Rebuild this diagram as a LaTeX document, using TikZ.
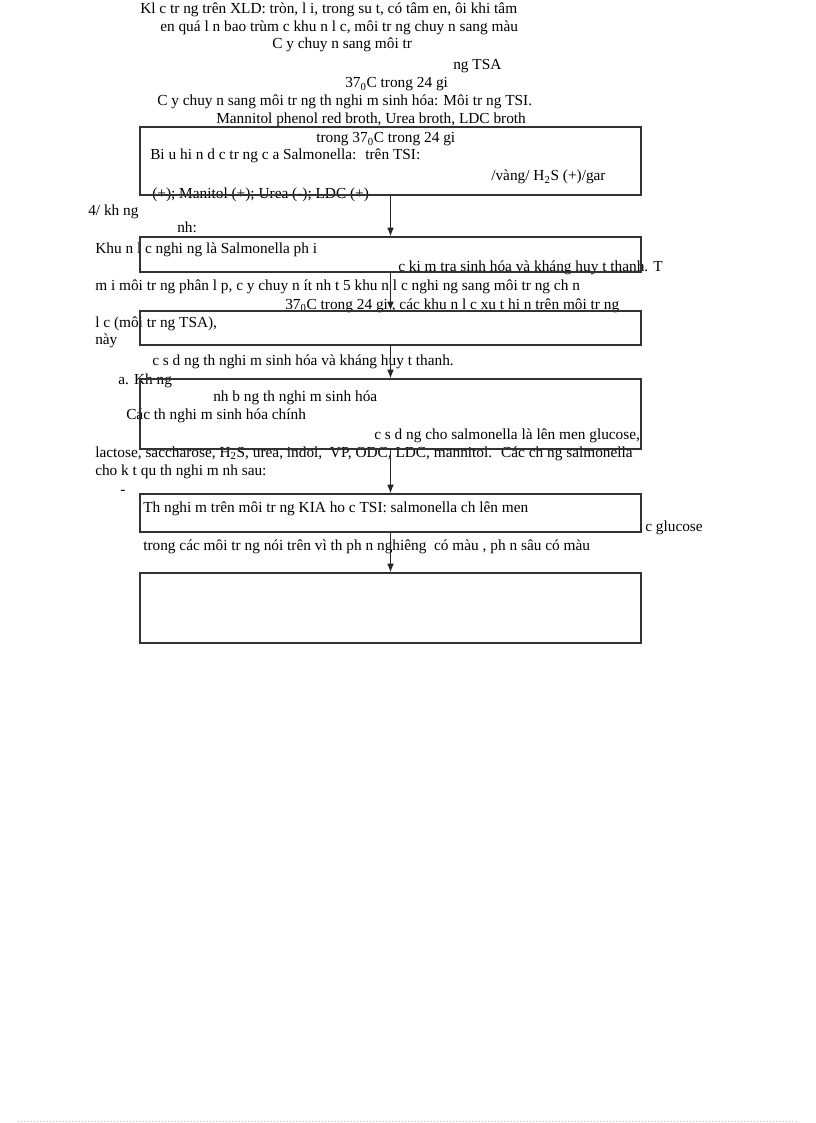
\documentclass[tikz,border=0pt]{standalone}
\usepackage{fontspec}
\setmainfont{Liberation Serif}
\usetikzlibrary{arrows.meta}
\begin{document}
\begin{tikzpicture}[x=0.75pt,y=-0.75pt]
    \tikzstyle{txt}=[anchor=base west,inner sep=0pt,font=\fontsize{11.5}{13}\selectfont]
    \tikzstyle{box}=[draw=black!80,line width=0.9pt,minimum width=501*0.75pt,inner sep=0pt]
    \pgfsetarrowsend{latex}
    \tikzstyle{fwd} = [draw=black!85, line width=0.75pt, -{Latex[length=6.5pt,width=5pt]}]

    \def\bx{390.5}
    \def\sub#1{\textsubscript{#1}}

    \useasboundingbox (0,0) rectangle (816,1123);

    % text lines
    \node[txt] (t1) at (140,14) {Kl c tr ng trên XLD: tròn, l i, trong su t, có tâm en, ôi khi tâm};
    \node[txt] (t2) at (160,32) {en quá l n bao trùm c khu n l c, môi tr ng chuy n sang màu};
    \node[txt] (t3) at (272,49) {C y chuy n sang môi tr};
    \node[txt] (t4) at (453,70) {ng TSA};
    \node[txt] (t5) at (345,88) {37\sub{0}C trong 24 gi};
    \node[txt] (t6) at (157,106) {C y chuy n sang môi tr ng th nghi m sinh hóa: Môi tr ng TSI.};
    \node[txt] (t7) at (216,124) {Mannitol phenol red broth, Urea broth, LDC broth};
    \node[txt] (t8) at (316,143) {trong 37\sub{0}C trong 24 gi};
    \node[txt] (t9) at (150,160) {Bi u hi n d c tr ng c a Salmonella: \ trên TSI:};
    \node[txt] (t10) at (491,181) {/vàng/ H\sub{2}S (+)/gar};
    \node[txt] (t11) at (152,199) {(+); Manitol (+); Urea (-); LDC (+)};
    \node[txt] (t12) at (88,216) {4/ kh ng};
    \node[txt] (t13) at (177,233) {nh:};
    \node[txt] (t14) at (95,253) {Khu n l c nghi ng là Salmonella ph i};
    \node[txt] (t15) at (398,272) {c ki m tra sinh hóa và kháng huy t thanh. T};
    \node[txt] (t16) at (95,290) {m i môi tr ng phân l p, c y chuy n ít nh t 5 khu n l c nghi ng sang môi tr ng ch n};
    \node[txt] (t17) at (285,309) {37\sub{0}C trong 24 gi , các khu n l c xu t hi n trên môi tr ng};
    \node[txt] (t18) at (95,327) {l c (môi tr ng TSA),};
    \node[txt] (t19) at (95,344) {này};
    \node[txt] (t20) at (152,365) {c s d ng th nghi m sinh hóa và kháng huy t thanh.};
    \node[txt] (t21) at (118,384) {a. Kh ng};
    \node[txt] (t22) at (213,401) {nh b ng th nghi m sinh hóa};
    \node[txt] (t23) at (126,419) {Các th nghi m sinh hóa chính};
    \node[txt] (t24) at (374,439) {c s d ng cho salmonella là lên men glucose,};
    \node[txt] (t25) at (95,457) {lactose, saccharose, H\sub{2}S, urea, indol, \ VP, ODC, LDC, mannitol. \ Các ch ng salmonella};
    \node[txt] (t26) at (95,475) {cho k t qu th nghi m nh sau:};
    \node[txt] (t27) at (120,494) {-};
    \node[txt] (t28) at (143,512) {Th nghi m trên môi tr ng KIA ho c TSI: salmonella ch lên men};
    \node[txt] (t29) at (645,531) {c glucose};
    \node[txt] (t30) at (143,550) {trong các môi tr ng nói trên vì th ph n nghiêng \ có màu , ph n sâu có màu};

    % boxes
    \node[box,minimum height=68*0.75pt] (b1) at (\bx,161) {};
    \node[box,minimum height=35*0.75pt] (b2) at (\bx,254.5) {};
    \node[box,minimum height=34*0.75pt] (b3) at (\bx,328) {};
    \node[box,minimum height=70*0.75pt] (b4) at (\bx,414) {};
    \node[box,minimum height=38*0.75pt] (b5) at (\bx,513) {};
    \node[box,minimum height=70*0.75pt] (b6) at (\bx,608) {};

   \draw [fwd] (b1) -- (b2);
   \draw [fwd] (b2) -- (b3);
   \draw [fwd] (b3) -- (b4);
   \draw [fwd] (b4) -- (b5);
   \draw [fwd] (b5) -- (b6);

    % page edge
    \coordinate (e1) at (18,1121);
    \coordinate (e2) at (796,1121);
    \draw [black!25, line width=0.4pt, dotted, arrows=-] (e1) -- (e2);

\end{tikzpicture}
\end{document}
